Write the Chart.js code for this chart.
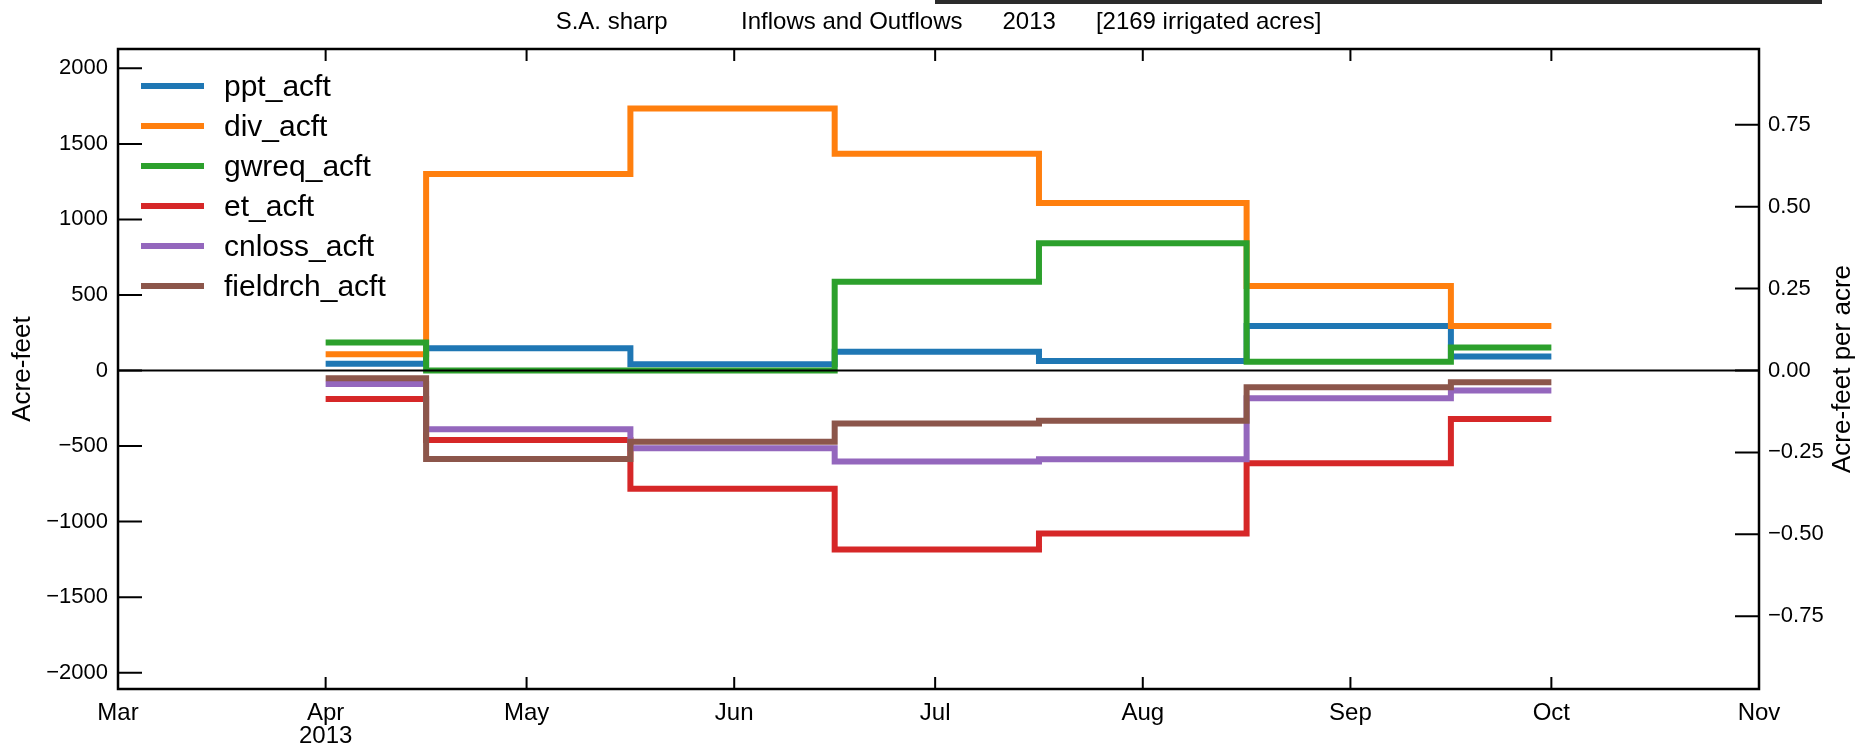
<!DOCTYPE html>
<html>
<head>
<meta charset="utf-8">
<script src="https://cdn.jsdelivr.net/npm/chart.js@4.4.1/dist/chart.umd.min.js"></script>
<style>
  html, body { margin: 0; padding: 0; background: #fff; }
  #wrap { position: relative; width: 1855px; height: 747px; }
  #topbar { position: absolute; left: 935px; top: 0; width: 887px; height: 4px; background: #2b2b2b; }
</style>
</head>
<body>
<div id="wrap">
  <canvas id="flows" width="1855" height="747"></canvas>
  <div id="topbar"></div>
</div>
<script>
// x axis runs in days counted from Mar 1 2013
const monthNames = ['Mar', 'Apr', 'May', 'Jun', 'Jul', 'Aug', 'Sep', 'Oct', 'Nov'];
const monthDays  = [0, 31, 61, 92, 122, 153, 184, 214, 245];
const yearLabel  = '2013';

// monthly volumes sit on the first of Apr..Oct
const sampleDays = [31, 61, 92, 122, 153, 184, 214];

const ppt_acft      = [45, 147, 41, 125, 63, 294, 92];
const div_acft      = [107, 1300, 1735, 1435, 1108, 560, 295];
const gwreq_acft    = [186, 0, 0, 588, 842, 58, 153];
const et_acft       = [-189, -460, -782, -1185, -1078, -614, -321];
const cnloss_acft   = [-89, -389, -515, -603, -588, -184, -133];
const fieldrch_acft = [-52, -586, -471, -350, -332, -111, -78];

const irrigatedAcres = 2169;
const leftTicks  = [-2000, -1500, -1000, -500, 0, 500, 1000, 1500, 2000];
const rightTicks = [-0.75, -0.5, -0.25, 0, 0.25, 0.5, 0.75];

const yMin = -2108, yMax = 2128;

const FONT = "'Liberation Sans', Arial, sans-serif";

const seriesNames  = ['ppt_acft', 'div_acft', 'gwreq_acft', 'et_acft', 'cnloss_acft', 'fieldrch_acft'];
const seriesValues = [ppt_acft, div_acft, gwreq_acft, et_acft, cnloss_acft, fieldrch_acft];
const seriesColors = ['#1f77b4', '#ff7f0e', '#2ca02c', '#d62728', '#9467bd', '#8c564b'];

const titleText = 'S.A. sharp           Inflows and Outflows      2013      [2169 irrigated acres]';

function minus(s) { return s.replace('-', '\u2212'); }

let datasets = seriesNames.map((name, i) => ({
  label: name,
  data: sampleDays.map((d, j) => ({ x: d, y: seriesValues[i][j] })),
  borderColor: seriesColors[i],
  backgroundColor: seriesColors[i],
  borderWidth: 6,
  stepped: 'middle',
  pointRadius: 0,
  borderJoinStyle: 'miter',
  borderCapStyle: 'butt',
  fill: false,
  order: seriesNames.length - i,   // later series painted on top
  yAxisID: 'y'
}));

// box, inward ticks, zero line and the legend inside the plot
const framePlugin = {
  id: 'frame',
  afterDatasetsDraw(chart) {
    const { ctx, chartArea: a, scales } = chart;
    ctx.save();
    ctx.strokeStyle = '#000';

    const y0 = scales.y.getPixelForValue(0);
    ctx.lineWidth = 2;
    ctx.beginPath();
    ctx.moveTo(a.left, y0);
    ctx.lineTo(a.right, y0);
    ctx.stroke();

    ctx.lineWidth = 2;
    ctx.beginPath();
    scales.y.ticks.forEach(t => {
      const p = scales.y.getPixelForValue(t.value);
      ctx.moveTo(a.left, p); ctx.lineTo(a.left + 24, p);
    });
    scales.y1.ticks.forEach(t => {
      const p = scales.y1.getPixelForValue(t.value);
      ctx.moveTo(a.right, p); ctx.lineTo(a.right - 24, p);
    });
    scales.x.ticks.forEach(t => {
      const p = scales.x.getPixelForValue(t.value);
      ctx.moveTo(p, a.bottom); ctx.lineTo(p, a.bottom - 12);
      ctx.moveTo(p, a.top); ctx.lineTo(p, a.top + 12);
    });
    ctx.stroke();

    ctx.lineWidth = 2.5;
    ctx.strokeRect(a.left, a.top, a.right - a.left, a.bottom - a.top);

    // legend
    ctx.font = '30px ' + FONT;
    ctx.textAlign = 'left';
    ctx.textBaseline = 'alphabetic';
    chart.data.datasets.forEach((ds, i) => {
      const y = a.top + 37 + i * 40;
      ctx.strokeStyle = ds.borderColor;
      ctx.lineWidth = 6;
      ctx.beginPath();
      ctx.moveTo(a.left + 23, y);
      ctx.lineTo(a.left + 86, y);
      ctx.stroke();
      ctx.fillStyle = '#000';
      ctx.fillText(ds.label, a.left + 106, y + 10);
    });
    ctx.restore();
  },
  afterDraw(chart) {
    const { ctx, chartArea: a } = chart;
    ctx.save();
    ctx.translate(1843, (a.top + a.bottom) / 2);
    ctx.rotate(-Math.PI / 2);
    ctx.font = '26px ' + FONT;
    ctx.fillStyle = '#000';
    ctx.textAlign = 'center';
    ctx.textBaseline = 'middle';
    ctx.fillText('Acre-feet per acre', 0, 0);
    ctx.restore();
  }
};

let myChart = new Chart(document.getElementById('flows'), {
  type: 'line',
  data: { datasets: datasets },
  options: {
    responsive: false,
    animation: false,
    layout: { padding: 0 },
    plugins: {
      legend: { display: false },
      tooltip: { enabled: false },
      title: {
        display: true,
        fullSize: false,
        text: titleText,
        color: '#000',
        font: { family: FONT, size: 24, weight: 'normal' },
        padding: { top: 8, bottom: 12.2 }
      }
    },
    scales: {
      x: {
        type: 'linear',
        position: 'bottom',
        min: 0,
        max: 245,
        grid: { display: false, drawTicks: false },
        border: { display: false },
        afterBuildTicks: s => { s.ticks = monthDays.map(v => ({ value: v })); },
        afterFit: s => { s.height = 58; },
        ticks: {
          autoSkip: false,
          maxRotation: 0,
          padding: 13,
          color: '#000',
          font: { family: FONT, size: 24, lineHeight: 0.96 },
          callback: (v, i) => i === 1 ? [monthNames[i], yearLabel] : monthNames[i]
        }
      },
      y: {
        type: 'linear',
        position: 'left',
        min: yMin,
        max: yMax,
        grid: { display: false, drawTicks: false },
        border: { display: false },
        afterBuildTicks: s => { s.ticks = leftTicks.map(v => ({ value: v })); },
        afterFit: s => { s.width = 118; },
        ticks: {
          padding: 10,
          color: '#000',
          font: { family: FONT, size: 22 },
          callback: v => minus(String(v))
        },
        title: {
          display: true,
          text: 'Acre-feet',
          color: '#000',
          font: { family: FONT, size: 26 },
          padding: { top: 7, bottom: 0 }
        }
      },
      y1: {
        type: 'linear',
        position: 'right',
        min: yMin / irrigatedAcres,
        max: yMax / irrigatedAcres,
        grid: { display: false, drawTicks: false },
        border: { display: false },
        afterBuildTicks: s => { s.ticks = rightTicks.map(v => ({ value: v })); },
        afterFit: s => { s.width = 96; },
        ticks: {
          padding: 9,
          color: '#000',
          font: { family: FONT, size: 22 },
          callback: v => minus(v.toFixed(2))
        }
      }
    }
  },
  plugins: [framePlugin]
});
</script>
</body>
</html>
